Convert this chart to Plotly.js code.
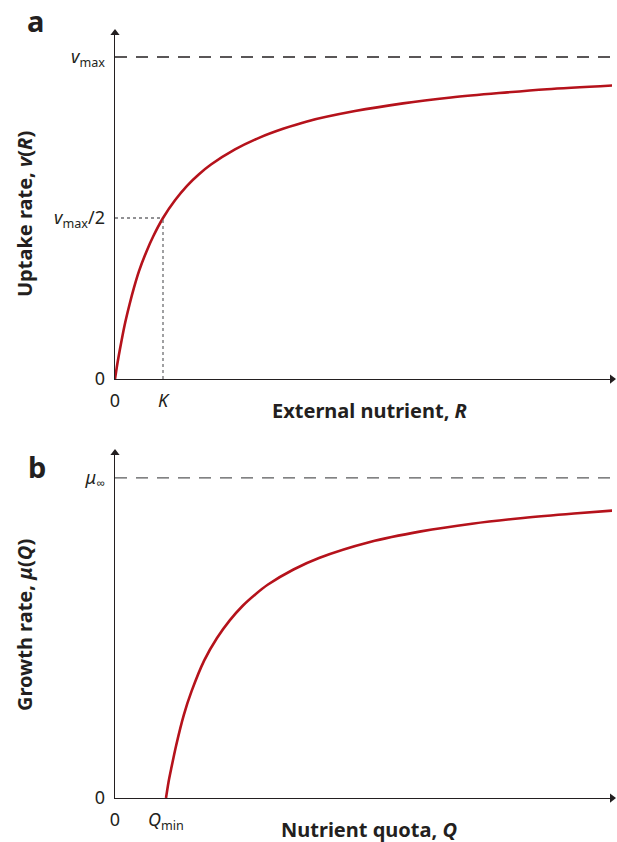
<!DOCTYPE html>
<html>
<head>
<meta charset="utf-8">
<script src="https://cdn.plot.ly/plotly-3.0.1.min.js"></script>
<style>
html,body{margin:0;padding:0;background:#fff;}
#chart{width:617px;height:842px;}
</style>
</head>
<body>
<div id="chart"></div>
<script>
// Panel a: uptake rate vs external nutrient (R in units of K, v in units of vmax)
const uptakeR = [0, 0.05, 0.1, 0.2, 0.3, 0.4, 0.5, 0.65, 0.8, 1, 1.25, 1.5, 1.75, 2, 2.5, 3, 3.5, 4, 5, 6, 7, 8, 9, 10.4];
const uptakeV = [0, 0.048, 0.09, 0.167, 0.23, 0.286, 0.335, 0.394, 0.444, 0.5, 0.555, 0.6, 0.636, 0.666, 0.713, 0.749, 0.777, 0.8, 0.832, 0.856, 0.874, 0.888, 0.9, 0.912];
// Panel b: growth rate vs nutrient quota (Q in units of Qmin, mu in units of mu_inf)
const quotaQ = [1, 1.05, 1.1, 1.2, 1.35, 1.5, 1.75, 2, 2.25, 2.5, 2.75, 3, 3.5, 4, 5, 6, 7, 8, 9, 9.75];
const growthMu = [0, 0.05, 0.09, 0.165, 0.26, 0.333, 0.43, 0.5, 0.555, 0.6, 0.636, 0.667, 0.714, 0.75, 0.8, 0.833, 0.857, 0.875, 0.889, 0.898];

// tick labels
const aXTickVals = [0, 1];
const aXTickText = ['0', '<i>K</i>'];
const aYTickVals = [0, 0.5, 1];
const aYTickText = ['0', '<i>v</i><sub>max</sub>/2', '<i>v</i><sub>max</sub>'];
const bXTickVals = [0, 1];
const bXTickText = ['0', '<i>Q</i><sub>min</sub>'];
const bYTickVals = [0, 1];
const bYTickText = ['0', '<i>μ</i><sub>∞</sub>'];

// reference markers
const halfSatK = 1, halfV = 0.5, vmax = 1, muInf = 1;

const ranges = {ax: [0, 10.354], ay: [0, 1.0745], bx: [0, 9.745], by: [0, 1.078]};

const FONT = 'Noto Sans, Open Sans, DejaVu Sans, sans-serif';
const INK = '#231f20';
const RED = '#b5121b';

function curve(x, y, xa, ya) {
  return {x: x, y: y, xaxis: xa, yaxis: ya, mode: 'lines',
    line: {color: RED, width: 2.6, shape: 'spline', smoothing: 0.8}, hoverinfo: 'skip', cliponaxis: false};
}
function arrowHeads(xr, yr, xa, ya) {
  return [
    {x: [xr[1]], y: [0], xaxis: xa, yaxis: ya, mode: 'markers', cliponaxis: false, hoverinfo: 'skip',
     marker: {symbol: 'triangle-right', size: 8, color: INK, line: {width: 0}}},
    {x: [0], y: [yr[1]], xaxis: xa, yaxis: ya, mode: 'markers', cliponaxis: false, hoverinfo: 'skip',
     marker: {symbol: 'triangle-up', size: 8, color: INK, line: {width: 0}}}
  ];
}

const traces = [
  curve(uptakeR, uptakeV, 'x', 'y'),
  curve(quotaQ, growthMu, 'x2', 'y2')
].concat(arrowHeads(ranges.ax, ranges.ay, 'x', 'y'), arrowHeads(ranges.bx, ranges.by, 'x2', 'y2'));

function xa(range, tv, tt, anchor) {
  return {range: range, domain: [0, 1], anchor: anchor, showgrid: false, zeroline: false,
    showline: true, linecolor: INK, linewidth: 1.4, ticks: '', tickvals: tv, ticktext: tt,
    ticklabelstandoff: 5, tickfont: {family: FONT, size: 18, color: INK}, fixedrange: true};
}
function ya(range, dom, tv, tt, anchor) {
  return {range: range, domain: dom, anchor: anchor, showgrid: false, zeroline: false,
    showline: true, linecolor: INK, linewidth: 1.4, ticks: '', tickvals: tv, ticktext: tt,
    ticklabelstandoff: 5, tickfont: {family: FONT, size: 18, color: INK}, fixedrange: true};
}

const layout = {
  width: 617, height: 842,
  margin: {l: 115, r: 5, t: 33, b: 44},
  paper_bgcolor: '#fff', plot_bgcolor: '#fff',
  showlegend: false,
  xaxis: xa(ranges.ax, aXTickVals, aXTickText, 'y'),
  yaxis: ya(ranges.ay, [0.5477, 1], aYTickVals, aYTickText, 'x'),
  xaxis2: xa(ranges.bx, bXTickVals, bXTickText, 'y2'),
  yaxis2: ya(ranges.by, [0, 0.451], bYTickVals, bYTickText, 'x2'),
  shapes: [
    {type: 'line', xref: 'x', yref: 'y', x0: 0, x1: ranges.ax[1], y0: vmax, y1: vmax,
     line: {color: INK, width: 1.3, dash: '12px,9px'}},
    {type: 'line', xref: 'x', yref: 'y', x0: 0, x1: halfSatK, y0: halfV, y1: halfV,
     line: {color: '#6d6e71', width: 1.3, dash: 'dot'}},
    {type: 'line', xref: 'x', yref: 'y', x0: halfSatK, x1: halfSatK, y0: 0, y1: halfV,
     line: {color: '#6d6e71', width: 1.3, dash: 'dot'}},
    {type: 'line', xref: 'x2', yref: 'y2', x0: 0, x1: ranges.bx[1], y0: muInf, y1: muInf,
     line: {color: '#58595b', width: 1.3, dash: '12px,9px'}}
  ],
  annotations: [
    // panel letters
    {xref: 'paper', yref: 'paper', x: -0.159, y: (798 - 20) / 765, text: '<b>a</b>', showarrow: false,
     xanchor: 'center', yanchor: 'middle', font: {family: FONT, size: 29, color: INK}},
    {xref: 'paper', yref: 'paper', x: -0.157, y: (798 - 466) / 765, text: '<b>b</b>', showarrow: false,
     xanchor: 'center', yanchor: 'middle', font: {family: FONT, size: 29, color: INK}},
    // axis titles
    {xref: 'paper', yref: 'paper', x: (369 - 115) / 497, y: (798 - 410) / 765,
     text: '<b>External nutrient, <i>R</i></b>', showarrow: false, xanchor: 'center', yanchor: 'middle',
     font: {family: FONT, size: 20, color: INK}},
    {xref: 'paper', yref: 'paper', x: (24 - 115) / 497, y: (798 - 214) / 765,
     text: '<b>Uptake rate, <i>v</i>(<i>R</i>)</b>', showarrow: false, xanchor: 'center', yanchor: 'middle',
     textangle: -90, font: {family: FONT, size: 20, color: INK}},
    {xref: 'paper', yref: 'paper', x: (369 - 115) / 497, y: (798 - 829) / 765,
     text: '<b>Nutrient quota, <i>Q</i></b>', showarrow: false, xanchor: 'center', yanchor: 'middle',
     font: {family: FONT, size: 20, color: INK}},
    {xref: 'paper', yref: 'paper', x: (24 - 115) / 497, y: (798 - 625) / 765,
     text: '<b>Growth rate, <i>μ</i>(<i>Q</i>)</b>', showarrow: false, xanchor: 'center', yanchor: 'middle',
     textangle: -90, font: {family: FONT, size: 20, color: INK}}
  ]
};

Plotly.newPlot('chart', traces, layout, {staticPlot: true, displayModeBar: false});
</script>
</body>
</html>
